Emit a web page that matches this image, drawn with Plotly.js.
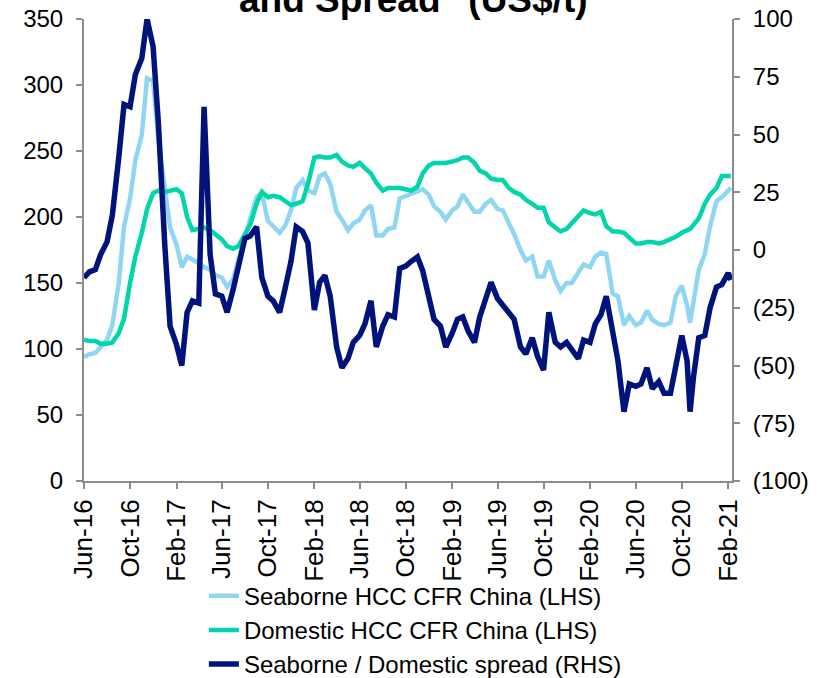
<!DOCTYPE html>
<html><head><meta charset="utf-8">
<script src="https://cdn.plot.ly/plotly-3.0.1.min.js"></script>
<style>html,body{margin:0;padding:0;background:#fff}#chart{width:830px;height:678px}</style>
</head><body><div id="chart"></div>
<script>
const dates = [
'2016-06-01','2016-06-15','2016-07-01','2016-07-15','2016-08-01','2016-08-15','2016-09-01','2016-09-15','2016-10-01','2016-10-15',
'2016-11-01','2016-11-15','2016-12-01','2016-12-15','2017-01-01','2017-01-15','2017-02-01','2017-02-15','2017-03-01','2017-03-15',
'2017-04-01','2017-04-15','2017-05-01','2017-05-15','2017-06-01','2017-06-15','2017-07-01','2017-07-15','2017-08-01','2017-08-15',
'2017-09-01','2017-09-15','2017-10-01','2017-10-15','2017-11-01','2017-11-15','2017-12-01','2017-12-15','2018-01-01','2018-01-15',
'2018-02-01','2018-02-15','2018-03-01','2018-03-15','2018-04-01','2018-04-15','2018-05-01','2018-05-15','2018-06-01','2018-06-15',
'2018-07-01','2018-07-15','2018-08-01','2018-08-15','2018-09-01','2018-09-15','2018-10-01','2018-10-15','2018-11-01','2018-11-15',
'2018-12-01','2018-12-15','2019-01-01','2019-01-15','2019-02-01','2019-02-15','2019-03-01','2019-03-15','2019-04-01','2019-04-15',
'2019-05-01','2019-05-15','2019-06-01','2019-06-15','2019-07-01','2019-07-15','2019-08-01','2019-08-15','2019-09-01','2019-09-15',
'2019-10-01','2019-10-15','2019-11-01','2019-11-15','2019-12-01','2019-12-15','2020-01-01','2020-01-15','2020-02-01','2020-02-15',
'2020-03-01','2020-03-15','2020-04-01','2020-04-15','2020-05-01','2020-05-15','2020-06-01','2020-06-15','2020-07-01','2020-07-15',
'2020-08-01','2020-08-15','2020-09-01','2020-09-15','2020-10-01','2020-10-15','2020-10-23','2020-11-01','2020-11-15','2020-12-01',
'2020-12-15','2021-01-01','2021-01-15','2021-02-01','2021-02-08'];

const seaborne = [
94,96,97,101,107,118,150,193,214,243,
262,305,303,258,220,192,179,162,170,168,
165,162,160,156,154,147,153,168,185,198,
215,218,197,193,188,193,205,222,228,220,
218,231,233,225,204,198,190,195,198,205,
209,186,186,191,192,214,216,217,220,221,
217,208,204,198,205,208,217,211,204,204,
210,213,206,205,196,187,175,167,170,155,
155,167,152,144,150,150,158,164,162,170,
173,172,142,140,118,125,118,120,129,122,
119,118,120,140,148,133,120,138,160,172,
193,212,215,220,222];

const domestic = [
107,106,106,104,104,105,112,123,150,170,
188,206,218,220,219,220,221,218,200,190,
191,192,190,187,183,178,176,178,186,194,
210,219,215,216,215,212,209,210,212,225,
245,246,245,245,247,242,239,238,241,237,
233,226,220,222,222,222,221,220,223,233,
239,241,241,241,242,243,245,245,241,235,
233,229,228,228,222,219,217,213,210,207,
207,196,192,189,191,195,201,205,203,202,
204,193,189,189,188,184,180,180,181,181,
180,181,183,185,188,190,191,194,199,210,
217,222,231,231,231];

const spread = [
-12,-9.5,-8.5,-2,3.5,15,40,63,62,76,
83,100,88,55,2,-33,-41,-50,-27,-22,
-23,62,-2,-19,-20,-27,-17,-6,5,6,
10,-12,-20,-22,-27,-17,-5,10,8,3,
-26,-14,-11,-20,-42,-51,-47,-40,-37,-32,
-22,-42,-33,-28,-29,-8,-7,-5,-3,-9,
-20,-30,-33,-42,-36,-30,-29,-35,-40,-29,
-21,-14,-21,-24,-27,-30,-42,-45,-38,-46,
-52,-27,-40,-42,-40,-43,-47,-39,-40,-32,
-28,-20,-35,-48,-70,-58,-59,-58,-51,-60,
-57,-62,-62,-50,-37,-48,-70,-55,-38,-37,
-25,-16,-15,-10,-13];

const xTickVals = ['2016-06-01','2016-10-01','2017-02-01','2017-06-01','2017-10-01','2018-02-01','2018-06-01','2018-10-01','2019-02-01','2019-06-01','2019-10-01','2020-02-01','2020-06-01','2020-10-01','2021-02-01'];
const xTickText = ['Jun-16','Oct-16','Feb-17','Jun-17','Oct-17','Feb-18','Jun-18','Oct-18','Feb-19','Jun-19','Oct-19','Feb-20','Jun-20','Oct-20','Feb-21'];
const leftTickVals = [0,50,100,150,200,250,300,350];
const rightTickVals = [-100,-75,-50,-25,0,25,50,75,100];
const rightTickText = ['(100)','(75)','(50)','(25)','0','25','50','75','100'];
const seriesNames = ['Seaborne HCC CFR China (LHS)','Domestic HCC CFR China (LHS)','Seaborne / Domestic spread (RHS)'];
const titleText = 'and Spread" (US$/t)';

const FONT = 'Arial, "Liberation Sans", sans-serif';
const axisCol = '#8c8c8c';

const traces = [
  {x: dates, y: seaborne, name: seriesNames[0], type: 'scatter', mode: 'lines',
   line: {color: '#8fd6f4', width: 4.5}, yaxis: 'y'},
  {x: dates, y: domestic, name: seriesNames[1], type: 'scatter', mode: 'lines',
   line: {color: '#00d6a9', width: 4.5}, yaxis: 'y'},
  {x: dates, y: spread, name: seriesNames[2], type: 'scatter', mode: 'lines',
   line: {color: '#00137a', width: 5.5}, yaxis: 'y2'}
];

const layout = {
  width: 830, height: 678,
  margin: {l: 84, r: 98, t: 19, b: 197},
  paper_bgcolor: '#fff', plot_bgcolor: '#fff',
  font: {family: FONT, size: 24, color: '#000'},
  showlegend: true,
  legend: {x: 0.185, xanchor: 'left', xref: 'paper',
           y: 0.154, yanchor: 'top', yref: 'container',
           font: {family: FONT, size: 24, color: '#000'}, tracegroupgap: 0,
           bgcolor: 'rgba(0,0,0,0)'},
  xaxis: {type: 'date', range: ['2016-06-01', '2021-02-11'],
          tickvals: xTickVals, ticktext: xTickText, tickangle: -90,
          ticks: 'outside', ticklen: 6, tickcolor: axisCol, tickwidth: 2,
          showline: true, linecolor: axisCol, linewidth: 2,
          showgrid: false, zeroline: false, fixedrange: true, automargin: false,
          tickfont: {family: FONT, size: 26, color: '#000'}},
  yaxis: {range: [0, 350], tickvals: leftTickVals,
          ticks: 'outside', ticklen: 6, tickcolor: axisCol, tickwidth: 2,
          showline: true, linecolor: axisCol, linewidth: 2,
          showgrid: false, zeroline: false, ticklabelstandoff: 8, automargin: false,
          tickfont: {family: FONT, size: 24, color: '#000'}},
  yaxis2: {range: [-100, 100], overlaying: 'y', side: 'right',
           tickvals: rightTickVals, ticktext: rightTickText,
           ticks: 'outside', ticklen: 6, tickcolor: axisCol, tickwidth: 2,
           showline: true, linecolor: axisCol, linewidth: 2,
           showgrid: false, zeroline: false, ticklabelstandoff: 8, automargin: false,
           tickfont: {family: FONT, size: 24, color: '#000'}},
  annotations: [{text: '<b>' + titleText + '</b>', xref: 'paper', yref: 'paper',
                 x: 0.508, y: 1.043, xanchor: 'center', yanchor: 'middle',
                 showarrow: false, font: {family: FONT, size: 37, color: '#000'}}]
};

Plotly.newPlot('chart', traces, layout, {displayModeBar: false, staticPlot: true});
</script>
</body></html>
